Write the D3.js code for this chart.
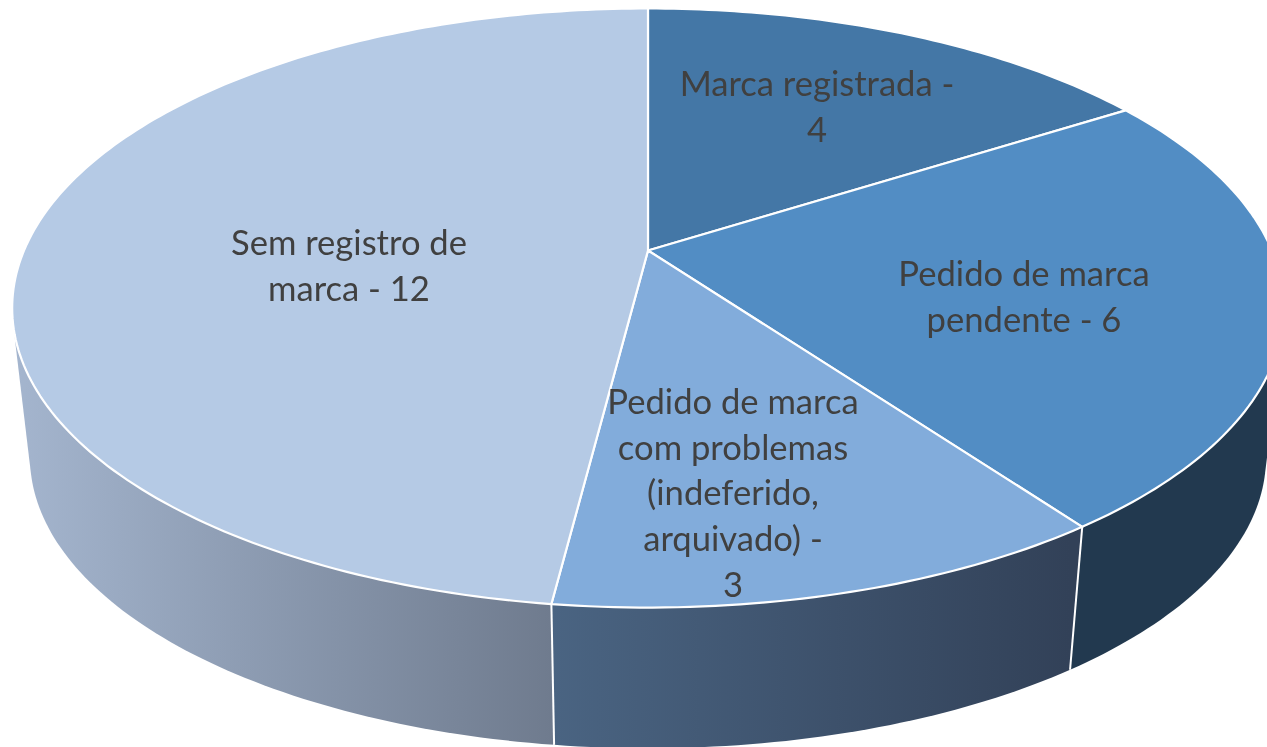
<!DOCTYPE html>
<html>
<head>
<meta charset="utf-8">
<script src="https://cdn.jsdelivr.net/npm/d3@7"></script>
<style>
  html, body { margin: 0; padding: 0; background: #fff; }
  svg { display: block; filter: blur(0.45px); }
  .slice-label { font-family: Lato, "Open Sans", sans-serif; font-size: 34.6px; fill: #404040; text-anchor: middle; }
</style>
</head>
<body>
<div id="chart"></div>
<script>
const categories = ['Marca registrada', 'Pedido de marca pendente', 'Pedido de marca com problemas (indeferido, arquivado)', 'Sem registro de marca'];
const values = [4, 6, 3, 12];
const labelLines = [
  ['Marca registrada -', '4'],
  ['Pedido de marca', 'pendente - 6'],
  ['Pedido de marca', 'com problemas', '(indeferido,', 'arquivado) -', '3'],
  ['Sem registro de', 'marca - 12']
];
const topColors = ['#4477a6', '#528dc4', '#82acdb', '#b5cae5'];

const width = 1267, height = 747;

// perspective of the tilted disc, fitted to the picture
const apex = { x: 648, y: 250.5 };
const radiusX = 624, radiusY = 288.5, tilt = 0.192;
// bottom rim is the top rim scaled a little and pushed down
const rimScale = 0.972, rimDrop = 157.7;

const labelX = [817, 1024, 733, 349];
const labelY = [96, 286, 414, 255];
const lineGap = 45.7;

function topPoint(a) {
  const X = Math.sin(a), Y = -Math.cos(a), w = 1 - tilt * Y;
  return [apex.x + radiusX * X / w, apex.y + radiusY * Y / w];
}

function lowPoint(a) {
  const p = topPoint(a);
  return [apex.x + rimScale * (p[0] - apex.x), rimScale * p[1] + rimDrop];
}

function arcAngles(a0, a1) {
  const n = Math.ceil((a1 - a0) * 60);
  return d3.range(n + 1).map(i => a0 + (a1 - a0) * i / n);
}

const svg = d3.select('#chart').append('svg')
  .attr('width', width)
  .attr('height', height);

const defs = svg.append('defs');

function addGradient(id, x1, x2, from, to) {
  const grad = defs.append('linearGradient')
    .attr('id', id)
    .attr('gradientUnits', 'userSpaceOnUse')
    .attr('x1', x1).attr('x2', x2)
    .attr('y1', 0).attr('y2', 0);
  grad.append('stop').attr('offset', 0).attr('stop-color', from);
  grad.append('stop').attr('offset', 1).attr('stop-color', to);
}

addGradient('wall-left', 15, 552, '#a4b5ce', '#6f7b8e');
addGradient('wall-front', 552, 1070, '#4a6482', '#324158');

const wallFills = ['#22394f', '#22394f', 'url(#wall-front)', 'url(#wall-left)'];

const pie = d3.pie().sort(null)(values);
const line = d3.line();

// walls first, the disc covers whatever is behind it
const drawOrder = [0, 3, 1, 2];
svg.append('g').selectAll('path')
  .data(drawOrder.map(i => pie[i]))
  .enter()
  .append('path')
  .attr('d', d => {
    const angles = arcAngles(d.startAngle, d.endAngle);
    return line(d3.polygonHull(angles.map(topPoint).concat(angles.map(lowPoint)))) + 'Z';
  })
  .attr('fill', d => wallFills[d.index]);

// wall seams, only where a seam is on the visible front
svg.append('g').selectAll('line')
  .data(pie.filter(d => d.index === 1 || d.index === 2))
  .enter()
  .append('line')
  .attr('x1', d => topPoint(d.endAngle)[0])
  .attr('y1', d => topPoint(d.endAngle)[1])
  .attr('x2', d => lowPoint(d.endAngle)[0])
  .attr('y2', d => lowPoint(d.endAngle)[1])
  .attr('stroke', '#fff')
  .attr('stroke-width', 2);

svg.append('g').selectAll('path')
  .data(pie)
  .enter()
  .append('path')
  .attr('d', d => line([[apex.x, apex.y]].concat(arcAngles(d.startAngle, d.endAngle).map(topPoint))) + 'Z')
  .attr('fill', d => topColors[d.index])
  .attr('stroke', '#fff')
  .attr('stroke-width', 2.2)
  .attr('stroke-linejoin', 'round');

const labels = svg.append('g').selectAll('text')
  .data(labelLines)
  .enter()
  .append('text')
  .attr('class', 'slice-label');

labels.selectAll('tspan')
  .data((d, i) => d.map((t, j) => ({ t, x: labelX[i], y: labelY[i] + j * lineGap })))
  .enter()
  .append('tspan')
  .attr('x', d => d.x)
  .attr('y', d => d.y)
  .text(d => d.t);
</script>
</body>
</html>
